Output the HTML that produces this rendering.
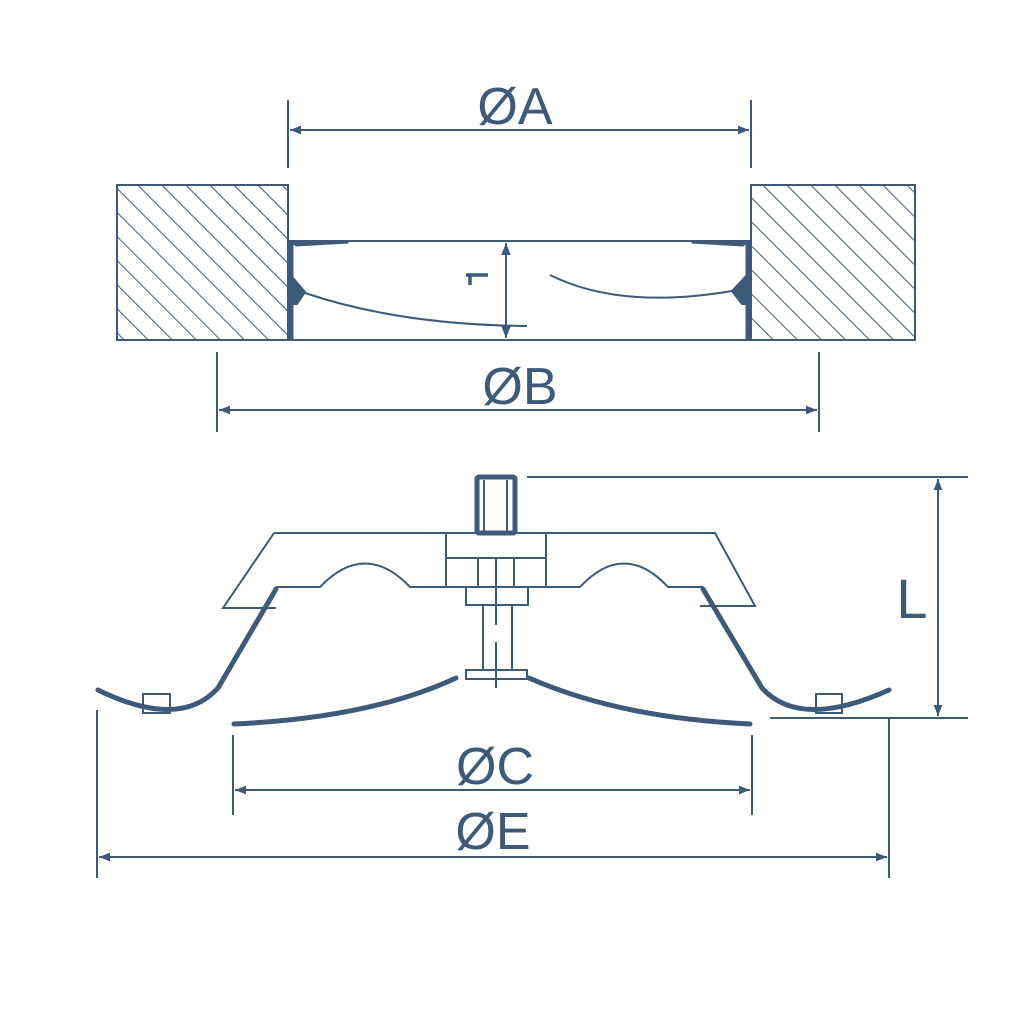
<!DOCTYPE html>
<html><head><style>body{margin:0;background:#fff}svg{display:block}</style></head><body>
<svg width="1024" height="1024" viewBox="0 0 1024 1024" xmlns="http://www.w3.org/2000/svg">
<defs>
<pattern id="h" patternUnits="userSpaceOnUse" width="17" height="17" patternTransform="rotate(-45)">
<line x1="0" y1="0" x2="0" y2="17" stroke="#3d5a7a" stroke-width="2"/>
</pattern>
<marker id="a" viewBox="0 0 10 10" refX="10" refY="5" markerWidth="22" markerHeight="11" orient="auto-start-reverse" markerUnits="userSpaceOnUse">
<path d="M0,1 L10,5 L0,9 z" fill="#3d5a7a"/></marker>
<marker id="b" viewBox="0 0 10 10" refX="10" refY="5" markerWidth="26" markerHeight="12" orient="auto-start-reverse" markerUnits="userSpaceOnUse">
<path d="M0,1 L10,5 L0,9 z" fill="#3d5a7a"/></marker>
</defs>
<g stroke="#3d5a7a" fill="none" stroke-width="2">
<rect x="117" y="185" width="171" height="155" fill="url(#h)"/>
<rect x="751" y="185" width="164" height="155" fill="url(#h)"/>
<line x1="288" y1="241" x2="751" y2="241"/>
<line x1="288" y1="340" x2="751" y2="340"/>
<path d="M288,241 L293,241 L293,340 L288,340Z" fill="#3d5a7a" stroke-width="1"/>
<path d="M290,241 L348,241 L348,243 L296,246Z" fill="#3d5a7a" stroke-width="1"/>
<path d="M293,278 L305,292 L297,304 L293,304Z" fill="#3d5a7a"/>
<path d="M305,293 Q400,325 527,326"/>
<path d="M746,241 L751,241 L751,340 L746,340Z" fill="#3d5a7a" stroke-width="1"/>
<path d="M749,241 L692,241 L692,243 L743,246Z" fill="#3d5a7a" stroke-width="1"/>
<path d="M746,276 L732,291 L742,304 L746,304Z" fill="#3d5a7a"/>
<path d="M550,275 Q620,310 732,291"/>
<line x1="506" y1="243" x2="506" y2="338" marker-start="url(#b)" marker-end="url(#b)"/>
<path d="M470,274 L470,285 M466,275 L488,275" stroke-width="3.5"/>
<line x1="288" y1="100" x2="288" y2="168"/>
<line x1="751" y1="100" x2="751" y2="168"/>
<line x1="290" y1="130" x2="749" y2="130" marker-start="url(#a)" marker-end="url(#a)"/>
<line x1="217" y1="352" x2="217" y2="432"/>
<line x1="819" y1="352" x2="819" y2="432"/>
<line x1="219" y1="410" x2="817" y2="410" marker-start="url(#a)" marker-end="url(#a)"/>
<rect x="477" y="477" width="38" height="56" stroke-width="5" rx="2"/>
<line x1="484" y1="480" x2="484" y2="533"/><line x1="507" y1="480" x2="507" y2="533"/>
<line x1="527" y1="477" x2="968" y2="477"/>
<line x1="770" y1="718" x2="968" y2="718"/>
<line x1="938" y1="479" x2="938" y2="716" marker-start="url(#a)" marker-end="url(#a)"/>
<path d="M274,533 L715,533 L755,606 L700,606"/>
<path d="M274,533 L223,608 L276,608"/>
<path d="M276,587 L320,587 Q365,540 410,587 L446,587"/>
<path d="M546,587 L580,587 Q624,540 668,587 L703,587"/>
<rect x="446" y="533" width="100" height="54"/>
<line x1="446" y1="558" x2="546" y2="558"/>
<line x1="478" y1="558" x2="478" y2="587"/><line x1="514" y1="558" x2="514" y2="587"/>
<rect x="466" y="587" width="62" height="18"/>
<rect x="483" y="605" width="29" height="65"/>
<rect x="466" y="670" width="61" height="9"/>
<line x1="496" y1="558" x2="496" y2="625"/><line x1="496" y1="642" x2="496" y2="688"/>
<path d="M276,589 L218,688 Q180,730 98,690" stroke-width="5" stroke-linecap="round"/>
<path d="M703,589 L762,688 Q800,730 889,690" stroke-width="5" stroke-linecap="round"/>
<rect x="143" y="694" width="27" height="19"/>
<rect x="816" y="694" width="26" height="19"/>
<path d="M234,724 Q370,718 456,678" stroke-width="5" stroke-linecap="round"/>
<path d="M529,678 Q620,718 750,724" stroke-width="5" stroke-linecap="round"/>
<line x1="233" y1="735" x2="233" y2="815"/>
<line x1="752" y1="735" x2="752" y2="815"/>
<line x1="235" y1="790" x2="750" y2="790" marker-start="url(#a)" marker-end="url(#a)"/>
<line x1="97" y1="710" x2="97" y2="878"/>
<line x1="889" y1="718" x2="889" y2="878"/>
<line x1="99" y1="857" x2="887" y2="857" marker-start="url(#a)" marker-end="url(#a)"/>
</g>
<g fill="#3d5a7a" font-family="Liberation Sans, sans-serif" font-size="52" text-anchor="middle">
<text x="515" y="124">ØA</text>
<text x="520" y="404">ØB</text>
<text x="495" y="784">ØC</text>
<text x="493" y="849">ØE</text>
<text x="912" y="618" font-size="56">L</text>
</g>
</svg>
</body></html>
